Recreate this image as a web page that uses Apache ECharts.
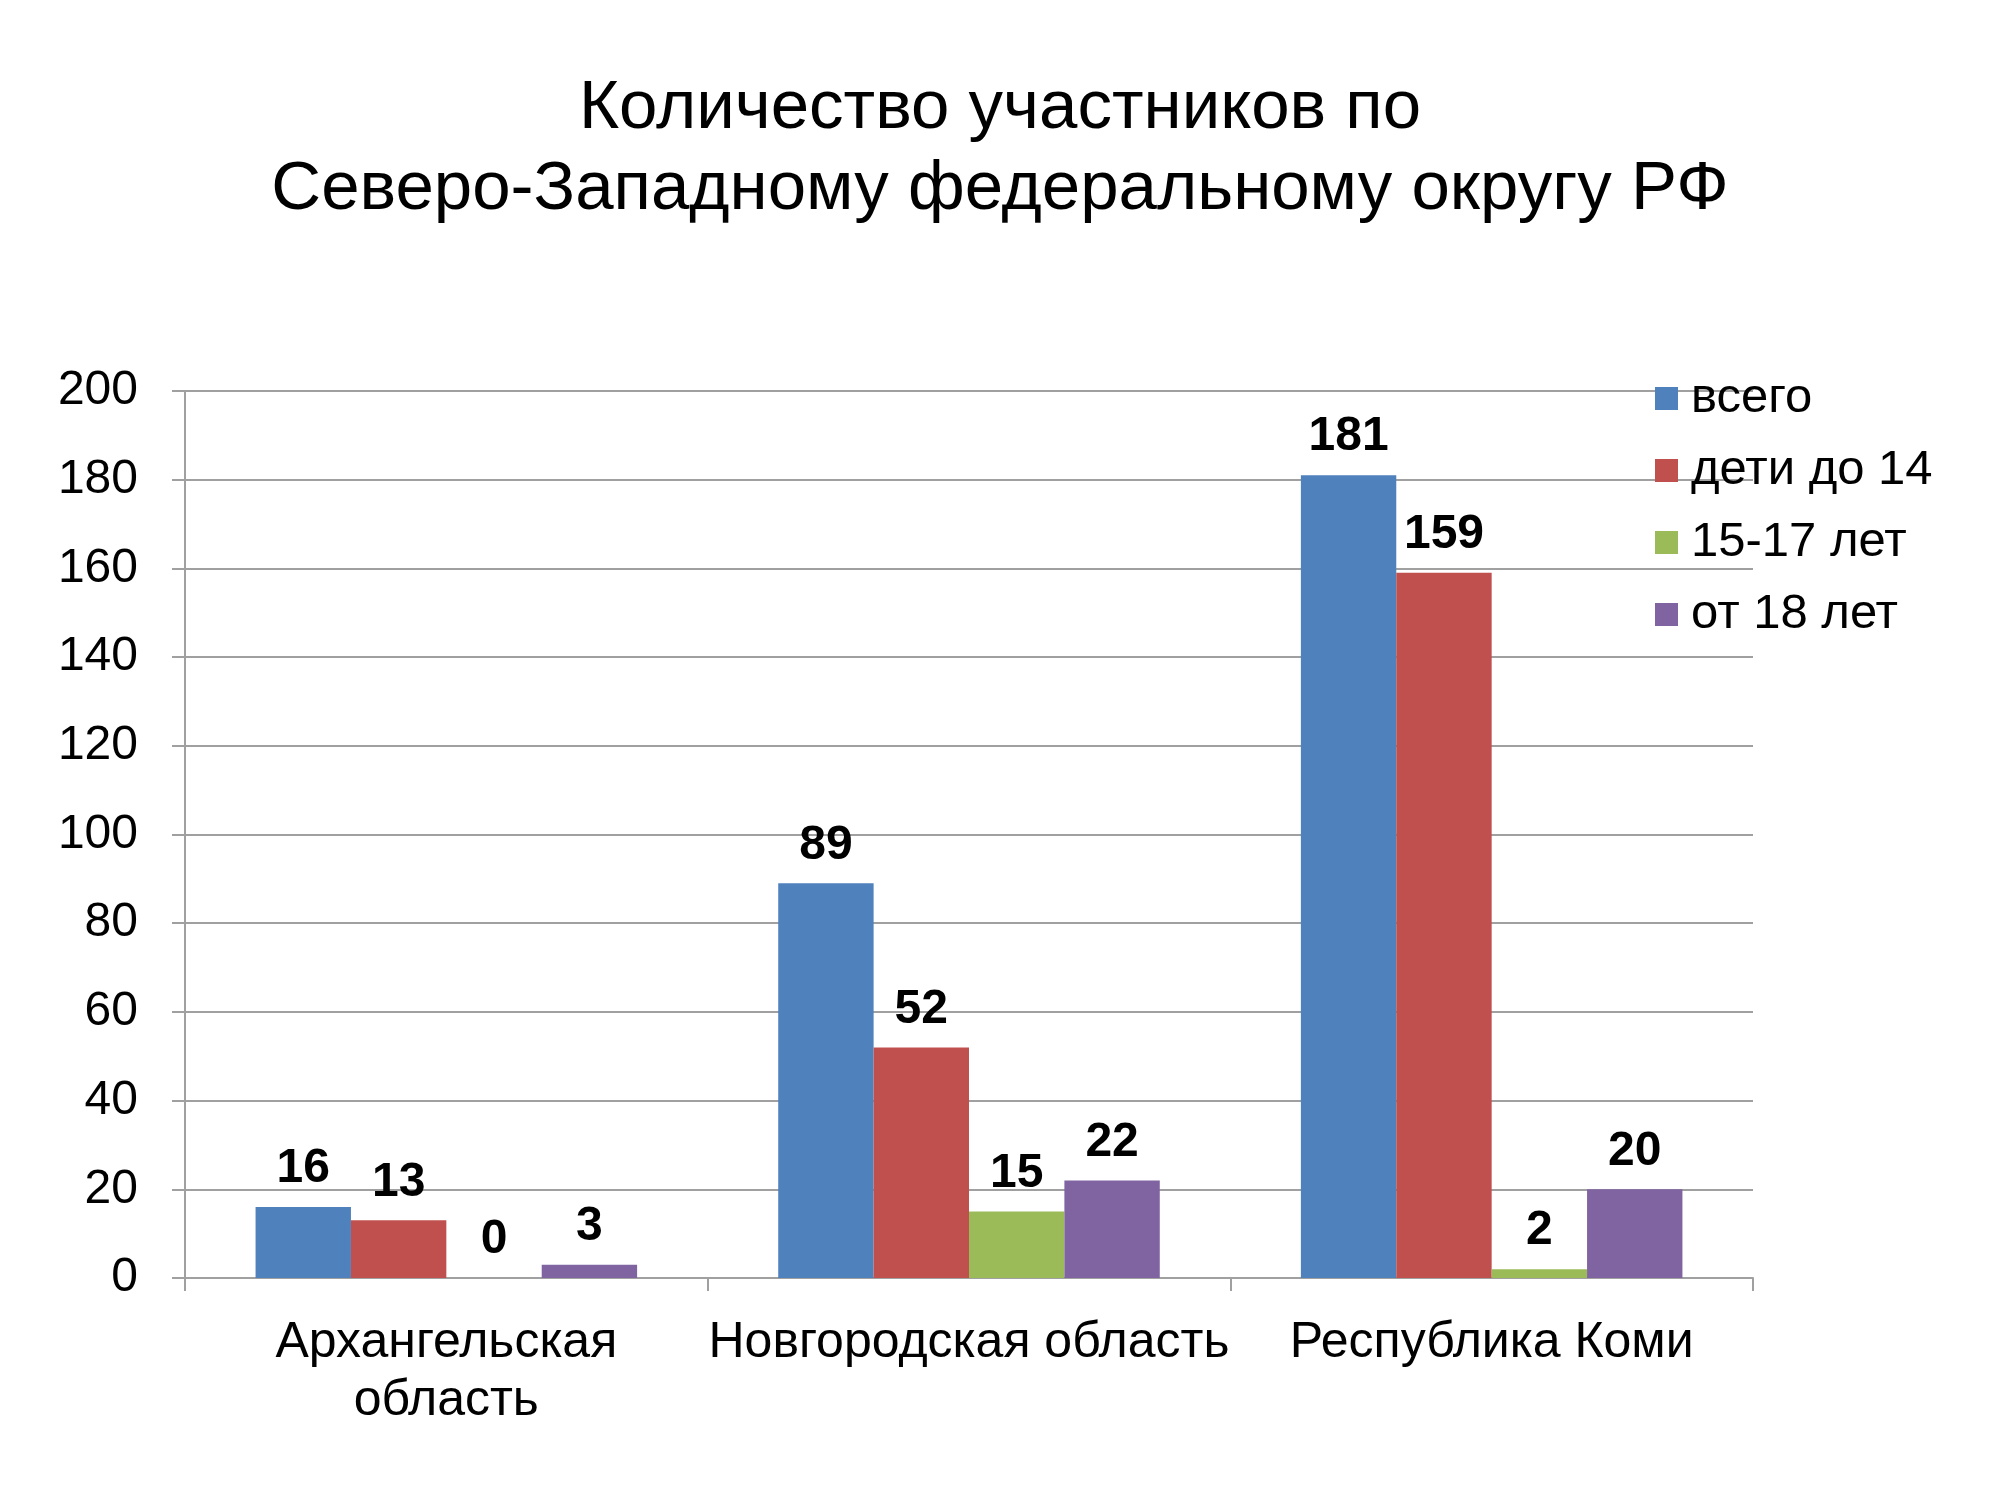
<!DOCTYPE html>
<html>
<head>
<meta charset="utf-8">
<script src="https://cdn.jsdelivr.net/npm/echarts@6/dist/echarts.min.js"></script>
<style>
  html, body { margin: 0; padding: 0; background: #fff; }
  #chart { width: 2000px; height: 1500px; }
</style>
</head>
<body>
<div id="chart"></div>
<script>
// data
var regions = ['Архангельская область', 'Новгородская область', 'Республика Коми'];
var seriesNames = ['всего', 'дети до 14', '15-17 лет', 'от 18 лет'];
var total = [16, 89, 181];
var kids14 = [13, 52, 159];
var teens = [0, 15, 2];
var adults = [3, 22, 20];
var colors = ['#4F81BD', '#C0504D', '#9BBB59', '#8064A2'];

var font = '"Liberation Sans", Arial, Helvetica, sans-serif';
var values = [total, kids14, teens, adults];

// wrap a category name at its last space when it is wider than one slot
var ctx = document.createElement('canvas').getContext('2d');
ctx.font = '50px ' + font;
function wrapLabel(s) {
    if (ctx.measureText(s).width <= 530) return s;
    var i = s.lastIndexOf(' ');
    return i > 0 ? s.slice(0, i) + '\n' + s.slice(i + 1) : s;
}

var chart = echarts.init(document.getElementById('chart'));

var series = seriesNames.map(function (name, i) {
    return {
        name: name,
        type: 'bar',
        data: values[i],
        barGap: '0%',
        barCategoryGap: '27%',
        itemStyle: { color: colors[i] },
        label: {
            show: true,
            position: 'top',
            distance: 14,
            fontFamily: font,
            fontSize: 48,
            fontWeight: 'bold',
            color: '#000'
        }
    };
});

chart.setOption({
    animation: false,
    backgroundColor: '#fff',
    title: {
        text: 'Количество участников по\nСеверо-Западному федеральному округу РФ',
        left: 'center',
        top: 63,
        textStyle: {
            fontFamily: font,
            fontSize: 69,
            fontWeight: 'normal',
            color: '#000',
            lineHeight: 81
        }
    },
    legend: {
        orient: 'vertical',
        left: 1650,
        top: 368,
        itemWidth: 23,
        itemHeight: 23,
        itemGap: 21,
        icon: 'rect',
        data: seriesNames,
        textStyle: {
            fontFamily: font,
            fontSize: 49,
            color: '#000',
            lineHeight: 51,
            padding: [0, 0, 0, 8]
        }
    },
    grid: {
        left: 185,
        right: 247,
        top: 391,
        bottom: 222
    },
    xAxis: {
        type: 'category',
        data: regions,
        axisLine: { lineStyle: { color: '#a0a0a0', width: 2 } },
        axisTick: { show: true, length: 13, lineStyle: { color: '#a0a0a0', width: 2 } },
        axisLabel: {
            interval: 0,
            margin: 36,
            fontFamily: font,
            fontSize: 50,
            color: '#000',
            lineHeight: 58,
            formatter: wrapLabel
        }
    },
    yAxis: {
        type: 'value',
        min: 0,
        max: 200,
        interval: 20,
        axisLine: { show: true, lineStyle: { color: '#a0a0a0', width: 2 } },
        axisTick: { show: true, length: 13, lineStyle: { color: '#a0a0a0', width: 2 } },
        axisLabel: {
            margin: 47,
            fontFamily: font,
            fontSize: 48,
            color: '#000'
        },
        splitLine: { lineStyle: { color: '#a0a0a0', width: 2 } }
    },
    series: series
});
</script>
</body>
</html>
